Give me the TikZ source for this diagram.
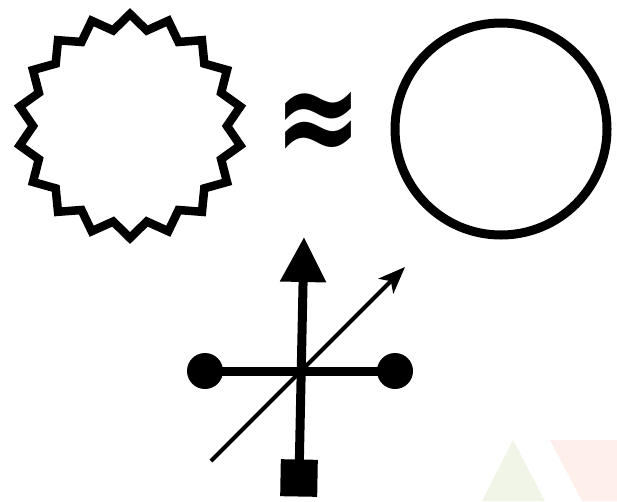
\documentclass[tikz,border=0pt]{standalone}
\usepackage{fontspec}
\usetikzlibrary{arrows.meta}
\newfontfamily\symfont{DejaVu Sans}
\definecolor{fgreen}{HTML}{F0F5E8}
\definecolor{fpink}{HTML}{FEEFEA}
\begin{document}
\begin{tikzpicture}[x=1pt,y=-1pt,
  starline/.style={line width=8.5pt, line join=miter, miter limit=20},
  ringline/.style={line width=9pt},
  bar/.style={line width=9pt},
  dotnode/.style={circle, fill=black, minimum size=36pt, inner sep=0pt},
  sqnode/.style={rectangle, fill=black, minimum size=37pt, inner sep=0pt},
  thinarrow/.style={line width=4pt, -{Stealth[length=27pt, width=21pt, inset=7pt]}},
  bigarrow/.style={line width=9pt, -{Triangle[length=45pt, width=44pt]}}]
\useasboundingbox (0,0) rectangle (617,501);
% faint background shapes
\fill[fgreen] (513,440) -- (545,501) -- (482,501) -- cycle;
\fill[fpink] (550,440) -- (617,440) -- (617,501) -- (582,501) -- cycle;
% zigzag circle
\begin{scope}[shift={(130,126)}]
\draw[starline] (90:112) \foreach \i in {0,...,17} { -- ({100+20*\i}:97) -- ({110+20*\i}:112) } -- cycle;
\end{scope}
% approx sign
\node[inner sep=0pt, xscale=1.05, yscale=1.4] (approx) at (318,128) {\fontsize{100}{100}\selectfont\symfont\bfseries ≈};
% plain circle
\draw[ringline] (501,129) circle (106);
% cross
\node[dotnode] (ld) at (205,371) {};
\node[dotnode] (rd) at (395,371) {};
\node[sqnode, rotate=-1] (sq) at (299,478) {};
\coordinate (vt) at (304,237);
\coordinate (dl) at (211,461);
\coordinate (dr) at (405,267);
\draw[bar] (ld.center) -- (rd.center);
\draw[bigarrow] (sq.center) -- (vt);
\draw[thinarrow] (dl) -- (dr);
\end{tikzpicture}
\end{document}
